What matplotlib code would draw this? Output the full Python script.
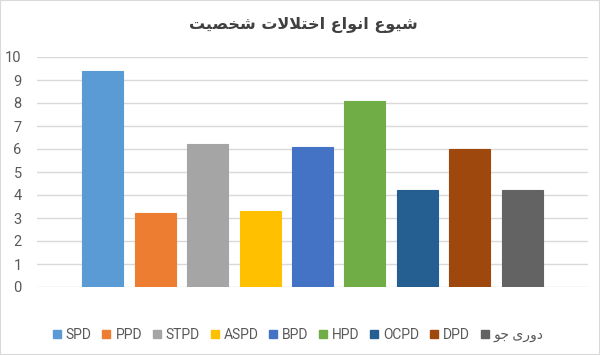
import matplotlib
matplotlib.use("Agg")
import matplotlib.pyplot as plt
from matplotlib.lines import Line2D
from matplotlib.patches import Rectangle

# داده ها
title = "شیوع انواع اختلالات شخصیت"
labels = ["SPD", "PPD", "STPD", "ASPD", "BPD", "HPD", "OCPD", "DPD", "دوری جو"]
values = [9.4, 3.2, 6.2, 3.3, 6.1, 8.1, 4.2, 6.0, 4.2]
colors = ["#5B9BD5", "#ED7D31", "#A5A5A5", "#FFC000", "#4472C4",
          "#70AD47", "#255E91", "#9E480E", "#636363"]
yticks = list(range(0, 11))

# matplotlib does no Arabic shaping -> use presentation forms, right to left
FORMS = {
    'ا': (0xFE8D, 0xFE8E, None, None),
    'ت': (0xFE95, 0xFE96, 0xFE97, 0xFE98),
    'ج': (0xFE9D, 0xFE9E, 0xFE9F, 0xFEA0),
    'خ': (0xFEA5, 0xFEA6, 0xFEA7, 0xFEA8),
    'د': (0xFEA9, 0xFEAA, None, None),
    'ر': (0xFEAD, 0xFEAE, None, None),
    'ش': (0xFEB5, 0xFEB6, 0xFEB7, 0xFEB8),
    'ص': (0xFEB9, 0xFEBA, 0xFEBB, 0xFEBC),
    'ع': (0xFEC9, 0xFECA, 0xFECB, 0xFECC),
    'ل': (0xFEDD, 0xFEDE, 0xFEDF, 0xFEE0),
    'ن': (0xFEE5, 0xFEE6, 0xFEE7, 0xFEE8),
    'و': (0xFEED, 0xFEEE, None, None),
    'ی': (0xFBFC, 0xFBFD, 0xFBFE, 0xFBFF),
}


def shape(s):
    if not any(c in FORMS for c in s):
        return s
    out = []
    i = 0
    while i < len(s):
        c = s[i]
        if c not in FORMS:
            out.append(c)
            i += 1
            continue
        prev = s[i - 1] if i > 0 else ''
        jp = prev in FORMS and FORMS[prev][2] is not None
        if c == 'ل' and i + 1 < len(s) and s[i + 1] == 'ا':
            out.append(chr(0xFEFC if jp else 0xFEFB))
            i += 2
            continue
        nxt = s[i + 1] if i + 1 < len(s) else ''
        iso, fin, ini, med = FORMS[c]
        jn = ini is not None and nxt in FORMS
        if jp and jn:
            f = med
        elif jp:
            f = fin
        elif jn:
            f = ini
        else:
            f = iso
        out.append(chr(f))
        i += 1
    return ''.join(reversed(out))


plt.rcParams['font.family'] = ['Roboto', 'DejaVu Sans']

fig = plt.figure(figsize=(6, 3.55), dpi=100)
ax = fig.add_axes([37 / 600, 68 / 355, 551 / 600, 230 / 355])

x = list(range(len(values)))
ax.bar(x, values, width=0.78, color=colors, edgecolor=colors, linewidth=0.8, zorder=3)

ax.set_xlim(-1.255, len(values) - 1 + 1.255)
ax.set_ylim(0, 10)
ax.set_yticks(yticks)
ax.set_xticks([])
ax.grid(axis='y', color='#D9D9D9', linewidth=1, zorder=0)
for s in ax.spines.values():
    s.set_visible(False)
ax.tick_params(axis='y', length=0, pad=11, labelsize=10.5, labelcolor='#595959')

fig.text(0.505, 1 - 25 / 355, shape(title), ha='center', va='center',
         fontsize=11.5, fontweight='bold', color='#404040',
         family=['DejaVu Sans'])

handles = [Line2D([], [], marker='s', linestyle='none', markersize=6,
                  markerfacecolor=c, markeredgecolor=c) for c in colors]
fig.legend(handles, [shape(l) for l in labels], loc='center', ncol=9,
           bbox_to_anchor=(0.497, 20 / 355), frameon=False,
           handlelength=0.6, handletextpad=0.35, columnspacing=0.75,
           prop={'size': 10}, labelcolor='#595959')

fig.patches.append(Rectangle((0, 0), 1, 1, transform=fig.transFigure,
                             fill=False, edgecolor='#D9D9D9', linewidth=1.5))

fig.savefig("out.png", dpi=100)
